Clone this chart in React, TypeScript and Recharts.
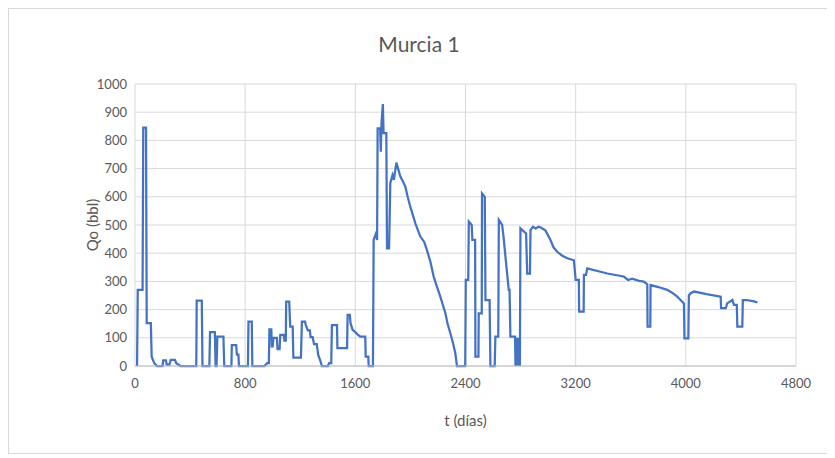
import React from "react";
import {
  CartesianGrid,
  Line,
  LineChart,
  XAxis,
  YAxis
} from "recharts";

// t (días) and Qo (bbl)
const days = [
  15, 20, 55, 60, 80, 85, 115, 121, 140, 160, 200, 205, 225, 230, 250, 260, 290, 300, 330,
  445, 448, 485, 490, 540, 545, 580, 585, 592, 598, 642, 648, 700, 703, 735, 740, 751, 755,
  820, 824, 848, 852, 940, 960, 972, 976, 990, 993, 1000, 1005, 1030, 1035, 1050, 1055, 1080,
  1085, 1095, 1098, 1120, 1127, 1145, 1150, 1205, 1212, 1235, 1240, 1255, 1270, 1275, 1290,
  1300, 1320, 1330, 1345, 1357, 1400, 1410, 1425, 1430, 1467, 1470, 1540, 1544, 1560, 1565,
  1580, 1600, 1620, 1636, 1672, 1675, 1694, 1697, 1728, 1733, 1750, 1758, 1762, 1780, 1785,
  1790, 1800, 1805, 1825, 1830, 1845, 1854, 1870, 1880, 1898, 1927, 1945, 1963, 1980, 1999,
  2036, 2072, 2100, 2120, 2145, 2169, 2190, 2217, 2254, 2270, 2290, 2310, 2326, 2338, 2398,
  2402, 2420, 2424, 2445, 2450, 2470, 2472, 2494, 2496, 2518, 2520, 2540, 2545, 2575, 2581,
  2612, 2617, 2638, 2642, 2666, 2678, 2690, 2714, 2720, 2726, 2760, 2763, 2770, 2778, 2785,
  2795, 2799, 2840, 2848, 2868, 2872, 2890, 2910, 2930, 2950, 2981, 3017, 3040, 3066, 3100,
  3139, 3187, 3200, 3223, 3225, 3258, 3260, 3275, 3284, 3430, 3520, 3550, 3580, 3610, 3660,
  3695, 3720, 3722, 3742, 3744, 3800, 3865, 3900, 3938, 3960, 3986, 3990, 4018, 4022, 4035,
  4060, 4150, 4253, 4256, 4290, 4300, 4338, 4350, 4370, 4374, 4410, 4414, 4440, 4495, 4520
];

const qo = [
  0, 270, 270, 845, 845, 152, 152, 33, 10, 0, 0, 20, 20, 5, 5, 22, 22, 10, 0,
  0, 232, 232, 0, 0, 120, 120, 0, 0, 104, 104, 0, 0, 74, 74, 40, 40, 0,
  0, 157, 157, 0, 0, 10, 10, 130, 130, 70, 70, 100, 100, 60, 60, 110, 110,
  90, 90, 228, 228, 140, 140, 30, 30, 157, 157, 146, 126, 126, 102, 102,
  78, 78, 40, 20, 0, 0, 10, 10, 145, 145, 63, 63, 181, 181, 152,
  128, 120, 110, 104, 104, 33, 33, 0, 0, 447, 470, 447, 843, 843, 760,
  860, 929, 826, 826, 417, 417, 649, 677, 660, 721, 672, 655, 636, 600, 565,
  506, 459, 440, 411, 370, 317, 285, 246, 187, 150, 116, 80, 45, 0, 0,
  305, 305, 512, 500, 447, 447, 33, 33, 187, 187, 612, 600, 234, 234, 0,
  0, 104, 104, 518, 500, 450, 388, 270, 270, 104, 104, 0, 100, 0, 100,
  0, 488, 470, 328, 328, 482, 494, 488, 494, 490, 480, 447, 420, 405, 392,
  382, 375, 305, 305, 193, 193, 323, 323, 346, 328, 320, 317, 305, 310, 302,
  299, 290, 140, 140, 287, 280, 270, 260, 246, 235, 222, 98, 98, 250, 258,
  264, 255, 246, 205, 205, 222, 234, 217, 217, 140, 140, 234, 234, 229, 225
];

const xTicks = [0, 800, 1600, 2400, 3200, 4000, 4800];
const yTicks = [0, 100, 200, 300, 400, 500, 600, 700, 800, 900, 1000];

const data = days.map((t, i) => ({ t, qo: qo[i] }));

const font = "Lato, 'Open Sans', sans-serif";
const grey = "#595959";

export default function App() {
  return (
    <div
      style={{
        position: "relative",
        width: 820,
        height: 444,
        border: "1px solid #d9d9d9",
        background: "#fff",
        fontFamily: font
      }}
    >
      <div
        style={{
          position: "absolute",
          top: 22,
          left: 0,
          width: 820,
          textAlign: "center",
          fontSize: 21,
          color: grey
        }}
      >
        Murcia 1
      </div>
      <LineChart
        width={820}
        height={444}
        data={data}
        margin={{ top: 75, right: 33, bottom: 57, left: 0 }}
      >
        <CartesianGrid stroke="#d9d9d9" strokeWidth={1} />
        <XAxis
          dataKey="t"
          type="number"
          domain={[0, 4800]}
          ticks={xTicks}
          height={30}
          tickLine={false}
          tickSize={0}
          tickMargin={13}
          stroke="#bfbfbf"
          tick={{ fill: grey, fontSize: 13, fontFamily: font }}
          label={{
            value: "t (días)",
            position: "bottom",
            offset: 19,
            fill: grey,
            fontSize: 15,
            fontFamily: font
          }}
        />
        <YAxis
          type="number"
          domain={[0, 1000]}
          ticks={yTicks}
          width={126}
          axisLine={false}
          tickLine={false}
          tickSize={0}
          tickMargin={8}
          tick={{ fill: grey, fontSize: 13, fontFamily: font }}
          label={{
            value: "Qo (bbl)",
            angle: -90,
            position: "insideLeft",
            offset: 84,
            fill: grey,
            fontSize: 15,
            fontFamily: font,
            style: { textAnchor: "middle" }
          }}
        />
        <Line
          type="linear"
          dataKey="qo"
          stroke="#4472C4"
          strokeWidth={2.25}
          dot={false}
          isAnimationActive={false}
        />
      </LineChart>
    </div>
  );
}
